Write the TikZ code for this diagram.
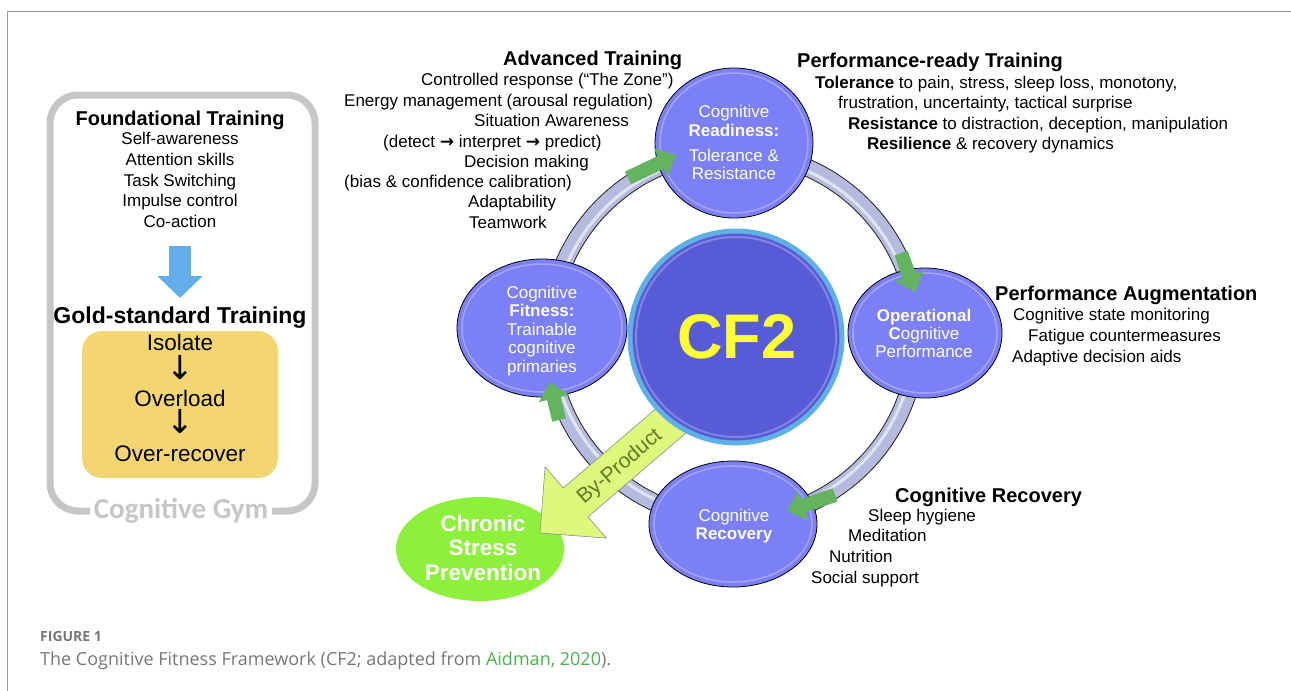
\documentclass[tikz,border=0pt]{standalone}
\usepackage{fontspec}
\setmainfont{Liberation Sans}
\newfontfamily\gymfont{Carlito}
\newfontfamily\capfont{Open Sans}
\newfontfamily\arrowfont{DejaVu Sans}
\usetikzlibrary{arrows.meta,shapes.geometric}
\definecolor{framegray}{HTML}{9B9B9B}
\definecolor{gymgray}{HTML}{C6C6C6}
\definecolor{downblue}{HTML}{63AEEA}
\definecolor{goldfill}{HTML}{F3D671}
\definecolor{cfill}{HTML}{7B80F6}
\definecolor{cfcore}{HTML}{575CD6}
\definecolor{cfedge}{HTML}{60B0E8}
\definecolor{cfyel}{HTML}{FFFF33}
\definecolor{tube}{HTML}{B4BBDF}
\definecolor{garr}{HTML}{63B35F}
\definecolor{bypfill}{HTML}{DFF77C}
\definecolor{byptext}{HTML}{5D7D27}
\definecolor{cspfill}{HTML}{8DF03A}
\definecolor{capgray}{HTML}{777777}
\definecolor{capgreen}{HTML}{4CAF50}
\begin{document}
\begin{tikzpicture}[x=1pt,y=-1pt]
\tikzstyle{every node}=[inner sep=0pt]
\tikzstyle{txt}=[anchor=base west,font=\fontsize{17}{17}\selectfont]
\tikzstyle{hd}=[anchor=base west,font=\fontsize{20}{20}\selectfont\bfseries]
\tikzstyle{ctr}=[anchor=base,font=\fontsize{17}{17}\selectfont]
\tikzstyle{wtxt}=[ctr,text=white]
\tikzstyle{gtxt}=[anchor=base,font=\fontsize{22.5}{22.5}\selectfont]
\tikzstyle{darr}=[anchor=base,font=\arrowfont\fontsize{33}{33}\selectfont]
\tikzstyle{circ}=[ellipse,draw=black,line width=0.8pt,fill=cfill]
\tikzstyle{garrow}=[draw=garr,line width=14pt,-{Triangle[width=30pt,length=17pt]}]
\useasboundingbox (0,0) rectangle (1291,691);
% frame
\draw[framegray,line width=1pt] (7,691) -- (7,11) -- (1291,11);
% cognitive gym
\draw[gymgray,line width=7pt,rounded corners=28pt] (50,95) rectangle (315,511);
\node[fill=white,inner xsep=4pt,text=gymgray,font=\gymfont\bfseries\fontsize{29}{29}\selectfont] (gym) at (181,511) {Cognitive Gym};
\node[anchor=base,font=\fontsize{20}{20}\selectfont\bfseries] (ft) at (180,125) {Foundational Training};
\node[ctr] (ft1) at (180,144) {Self-awareness};
\node[ctr] (ft2) at (180,165) {Attention skills};
\node[ctr] (ft3) at (180,186) {Task Switching};
\node[ctr] (ft4) at (180,206) {Impulse control};
\node[ctr] (ft5) at (180,227) {Co-action};
\coordinate (b1) at (180,246);
\coordinate (b2) at (180,298);
\draw[draw=downblue,line width=22pt,-{Triangle[width=44pt,length=22pt]}] (b1) -- (b2);
\node[anchor=base,font=\fontsize{23}{23}\selectfont\bfseries] (gs) at (180,323) {Gold-standard Training};
\node[fill=goldfill,rounded corners=20pt,minimum width=196pt,minimum height=147pt] (gold) at (180,404.5) {};
\node[gtxt] (g1) at (180,350) {Isolate};
\node[darr] (g2) at (180,379) {↓};
\node[gtxt] (g3) at (180,406) {Overload};
\node[darr] (g4) at (180,433) {↓};
\node[gtxt] (g5) at (180,461) {Over-recover};
% ring
\coordinate (o) at (733,336);
\draw[black!85,line width=18pt] (o) circle[radius=184pt];
\draw[tube,line width=16pt] (o) circle[radius=184pt];
\draw[white,opacity=0.6,line width=3pt] (o) circle[radius=181pt];
% chronic stress prevention
\node[ellipse,fill=cspfill,minimum width=168pt,minimum height=104pt] (csp) at (480,549) {};
\node[gtxt,text=white,font=\fontsize{22.5}{22.5}\selectfont\bfseries] (csp1) at (483,531) {Chronic};
\node[gtxt,text=white,font=\fontsize{22.5}{22.5}\selectfont\bfseries] (csp2) at (483,555) {Stress};
\node[gtxt,text=white,font=\fontsize{22.5}{22.5}\selectfont\bfseries] (csp3) at (483,580) {Prevention};
% by-product
\draw[draw=black!45,line width=0.6pt,fill=bypfill] (667.3,398.9) -- (563.3,488.0) -- (545.1,466.7) -- (540,533)
  -- (606.3,538.1) -- (588.1,516.8) -- (692.1,427.7) -- cycle;
\node[rotate=40.6,text=byptext,font=\fontsize{21}{21}\selectfont] (byp) at (620,467) {By-Product};
% CF2
\node[circle,fill=cfcore,draw=cfedge,line width=5pt,minimum size=212pt] (cf2) at (736,337) {};
\draw[white,opacity=0.25,line width=2pt] (cf2.center) circle[radius=100pt];
\node[anchor=base,text=cfyel,font=\fontsize{63}{63}\selectfont\bfseries] (cf2t) at (737,358) {CF2};
% four stages
\node[circ,minimum width=158pt,minimum height=150pt] (rdy) at (734,143) {};
\node[circ,minimum width=170pt,minimum height=138pt] (fit) at (542,328) {};
\node[circ,minimum width=154pt,minimum height=130pt] (ocp) at (925,333) {};
\node[circ,minimum width=168pt,minimum height=126pt] (rec) at (733,524) {};
\foreach \n/\rx/\ry in {rdy/74/70,fit/80/64,ocp/72/60,rec/79/58}
  \draw[white,opacity=0.3,line width=1.5pt] (\n.center) ellipse[x radius=\rx pt,y radius=\ry pt];
\node[wtxt] (rdy1) at (734,117) {Cognitive};
\node[wtxt] (rdy2) at (734,136) {\bfseries Readiness:};
\node[wtxt] (rdy3) at (734,161) {Tolerance \&};
\node[wtxt] (rdy4) at (734,179) {Resistance};
\node[wtxt] (fit1) at (542,298) {Cognitive};
\node[wtxt] (fit2) at (542,316.5) {\bfseries Fitness:};
\node[wtxt] (fit3) at (542,335) {Trainable};
\node[wtxt] (fit4) at (542,353.5) {cognitive};
\node[wtxt] (fit5) at (542,372) {primaries};
\node[wtxt] (ocp1) at (924,321) {\bfseries Operational};
\node[wtxt] (ocp2) at (924,339) {{\bfseries C}ognitive};
\node[wtxt] (ocp3) at (924,357) {Performance};
\node[wtxt] (rec1) at (734,521) {Cognitive};
\node[wtxt] (rec2) at (734,539) {\bfseries Recovery};
% flow arrows
\coordinate (a1) at (628,178);
\coordinate (a2) at (676,155);
\coordinate (a3) at (901,253);
\coordinate (a4) at (915,292);
\coordinate (a5) at (835,495);
\coordinate (a6) at (787,511);
\coordinate (a7) at (559,420);
\coordinate (a8) at (550,382);
\draw[garrow] (a1) -- (a2);
\draw[garrow] (a3) -- (a4);
\draw[garrow] (a5) -- (a6);
\draw[garrow] (a7) -- (a8);
% advanced training
\node[hd] (at) at (503,65) {Advanced Training};
\node[txt] (at1) at (421,85) {Controlled response (“The Zone”)};
\node[txt] (at2) at (344,106) {Energy management (arousal regulation)};
\node[txt] (at3) at (474,126) {Situation Awareness};
\node[txt] (at4) at (383,147) {(detect {\arrowfont\bfseries →} interpret {\arrowfont\bfseries →} predict)};
\node[txt] (at5) at (464,167) {Decision making};
\node[txt] (at6) at (344,187) {(bias \& confidence calibration)};
\node[txt] (at7) at (468,207) {Adaptability};
\node[txt] (at8) at (469,228) {Teamwork};
% performance-ready training
\node[hd] (pr) at (797,67) {Performance-ready Training};
\node[txt] (pr1) at (815,88) {\textbf{Tolerance} to pain, stress, sleep loss, monotony,};
\node[txt] (pr2) at (838,108) {frustration, uncertainty, tactical surprise};
\node[txt] (pr3) at (848,129) {\textbf{Resistance} to distraction, deception, manipulation};
\node[txt] (pr4) at (867,149) {\textbf{Resilience} \& recovery dynamics};
% performance augmentation
\node[hd] (pa) at (995,300) {Performance Augmentation};
\node[txt] (pa1) at (1013,320) {Cognitive state monitoring};
\node[txt] (pa2) at (1028,341) {Fatigue countermeasures};
\node[txt] (pa3) at (1012,362) {Adaptive decision aids};
% cognitive recovery
\node[hd] (cr) at (895,502) {Cognitive Recovery};
\node[txt] (cr1) at (868,521) {Sleep hygiene};
\node[txt] (cr2) at (848,541) {Meditation};
\node[txt] (cr3) at (829,562) {Nutrition};
\node[txt] (cr4) at (811,583) {Social support};
% caption
\node[anchor=base west,text=capgray,font=\capfont\bfseries\fontsize{14}{14}\selectfont] (fig) at (40,641) {FIGURE 1};
\node[anchor=base west,text=capgray,font=\capfont\fontsize{18}{18}\selectfont] (cap) at (40,665) {The Cognitive Fitness Framework (CF2; adapted from \textcolor{capgreen}{Aidman, 2020}).};
\end{tikzpicture}
\end{document}
